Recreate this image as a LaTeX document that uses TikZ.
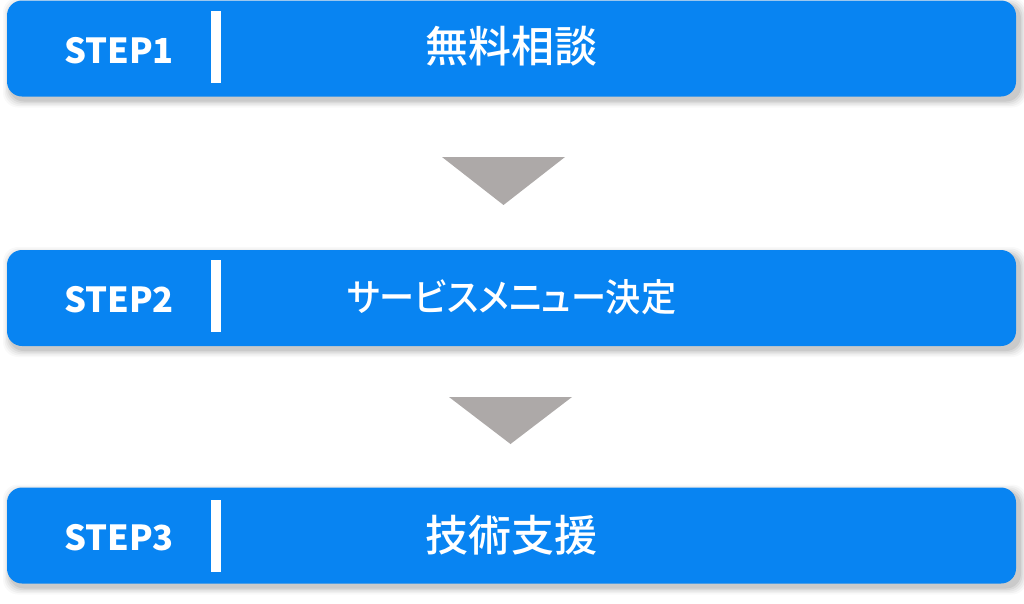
\documentclass[tikz,border=0pt]{standalone}
\usepackage{fontspec}
\usepackage{graphicx}
\setmainfont{Noto Sans CJK JP}
\newfontfamily\jpfont{Noto Sans CJK JP Medium}
\newfontfamily\jppfont{Noto Sans CJK JP Medium}[Script=CJK, Language=Japanese, RawFeature=+palt]
\definecolor{stepblue}{RGB}{8,132,242}
\definecolor{arrowgray}{RGB}{173,169,168}
\tikzset{
  stepbox/.style={fill=stepblue, rounded corners=15pt, minimum width=1009pt, minimum height=96pt, inner sep=0pt, draw=none},
  steplabel/.style={text=white, font=\bfseries\fontsize{34.5}{36}\selectfont, inner sep=0pt, anchor=base},
  stepbar/.style={fill=white, minimum width=10pt, minimum height=72pt, inner sep=0pt},
  steptext/.style={text=white, font=\jpfont\fontsize{43}{46}\selectfont, inner sep=0pt},
  steptextsmall/.style={steptext, font=\jppfont\fontsize{38}{40}\selectfont},
  downtri/.style={fill=arrowgray}
}
\newcommand{\boxshadow}[1]{%
  \foreach \s/\o in {7/0.025,5.5/0.035,4/0.045,2.5/0.055,1/0.07}{%
    \fill[black, opacity=\o, rounded corners=15pt]
      (10-\s, #1-48+4-\s) rectangle (1020+\s, #1+48+4+\s);
  }%
}
\begin{document}
\begin{tikzpicture}[x=1pt,y=-1pt]
\useasboundingbox (0,0) rectangle (1024,603);
% shadows
\boxshadow{48.5}
\boxshadow{298}
\boxshadow{535.5}
% boxes
\node[stepbox] (b1) at (511.5,48.5) {};
\node[stepbox] (b2) at (511.5,298) {};
\node[stepbox] (b3) at (511.5,535.5) {};
% step labels
\node[steplabel] (s1) at (119,63) {STEP1};
\node[steplabel] (s2) at (119,312.5) {STEP2};
\node[steplabel] (s3) at (119,550) {STEP3};
% bars
\node[stepbar] (bar1) at (216,46.5) {};
\node[stepbar] (bar2) at (216,296) {};
\node[stepbar] (bar3) at (216,536) {};
% texts
\node[steptext] (t1) at (511,46) {無料相談};
\node[steptextsmall] (t2) at (511.5,297.5) {\scalebox{0.925}[1]{サービスメニュー決定}};
\node[steptext] (t3) at (511,535) {技術支援};
% triangles
\fill[downtri] (442,157) -- (565,157) -- (503.5,205) -- cycle;
\fill[downtri] (449,397) -- (572,397) -- (510.5,444) -- cycle;
\end{tikzpicture}
\end{document}
